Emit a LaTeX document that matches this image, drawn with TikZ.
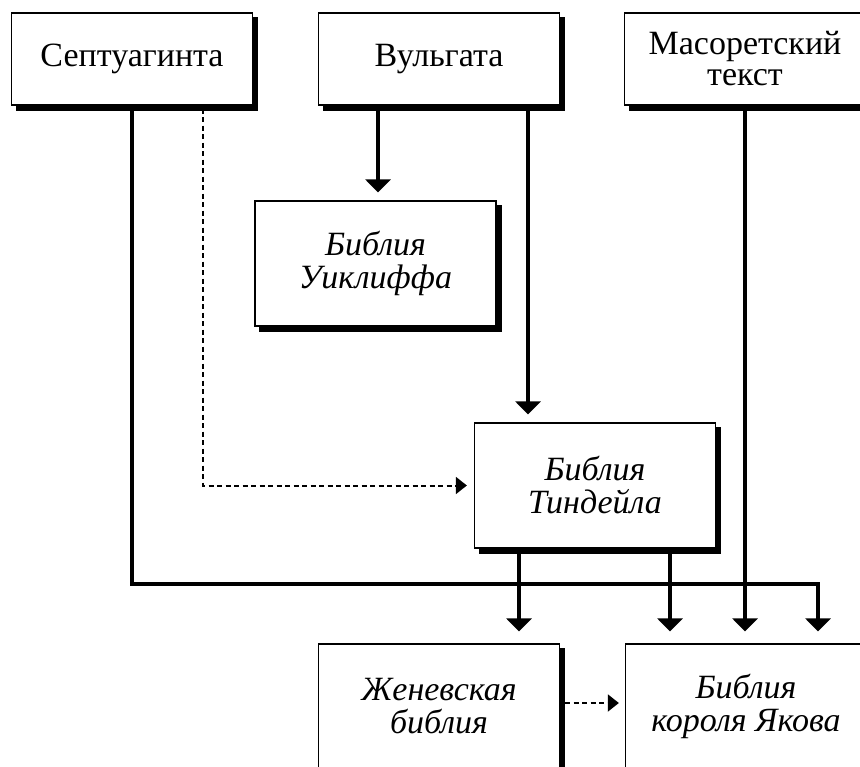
\documentclass[tikz,border=0pt]{standalone}
\usepackage{fontspec}
\setmainfont{Liberation Serif}
\usetikzlibrary{arrows.meta}
\tikzset{
  box/.style={draw=black, line width=1.3pt, fill=white, minimum width=241pt,
    inner sep=0pt, align=center, font=\fontsize{34}{31}\selectfont,
    preaction={fill=black, draw=black, line width=1.3pt, transform canvas={xshift=5pt,yshift=-5pt}}},
  topbox/.style={box, minimum height=92pt},
  lowbox/.style={box, minimum height=125pt, font=\fontsize{34}{33}\selectfont\itshape},
  conn/.style={line width=3.6pt, -{Triangle[width=25pt,length=13pt]}},
  dconn/.style={line width=2pt, dash pattern=on 5pt off 3.5pt, -{Triangle[width=17pt,length=11pt]}}
}
\begin{document}
\begin{tikzpicture}[x=1pt,y=-1pt]
\useasboundingbox (0,0) rectangle (860,767);
% boxes
\node[topbox] (sep) at (132,59) {Септуагинта};
\node[topbox] (vul) at (439,59) {Вульгата};
\node[topbox] (mas) at (745,59) {Масоретский\\текст};
\node[lowbox] (wyc) at (375.5,263.5) {Библия\\Уиклиффа};
\node[lowbox] (tyn) at (595,485.5) {Библия\\Тиндейла};
\node[lowbox] (gen) at (439,706.5) {Женевская\\библия};
\node[lowbox] (kjv) at (746,706.5) {Библия\\короля Якова};
% connectors
\draw[conn, shorten >=12pt] (sep.south) |- (818,584) -- (kjv.north -| 818,0);
\draw[dconn, shorten <=3pt, shorten >=7pt] (sep.south -| 203,0) |- (tyn.west);
\draw[conn, shorten >=8pt] (vul.south -| 378,0) -- (wyc.north -| 378,0);
\draw[conn, shorten >=8pt] (vul.south -| 528,0) -- (tyn.north -| 528,0);
\draw[conn, shorten >=12pt] (tyn.south -| 519,0) -- (gen.north -| 519,0);
\draw[conn, shorten >=12pt] (tyn.south -| 670,0) -- (kjv.north -| 670,0);
\draw[conn, shorten >=12pt] (mas.south) -- (mas.south |- kjv.north);
\draw[dconn, shorten <=5pt, shorten >=6pt] ([yshift=3.5pt]gen.east) -- ([yshift=3.5pt]gen.east -| kjv.west);
\end{tikzpicture}
\end{document}
